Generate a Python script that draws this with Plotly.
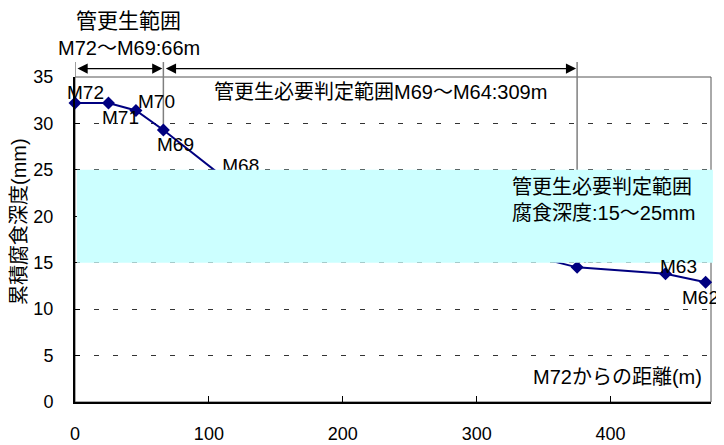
import plotly.graph_objects as go

# ---- data ----
points = ["M72", "M71", "M70", "M69", "M68", "M67", "M66", "M65", "M64", "M63", "M62"]
distance_m = [0, 25, 45.5, 66, 110, 180, 255, 320, 375, 441, 471]
depth_mm = [32.2, 32.2, 31.4, 29.3, 24.3, 21.5, 19.0, 16.5, 14.5, 13.8, 12.9]

x_ticks = [0, 100, 200, 300, 400]
y_ticks = [0, 5, 10, 15, 20, 25, 30, 35]

band_low_mm = 15
band_high_mm = 25
rehab_len_m = 66
judge_len_m = 309

# ---- style ----
LAT = "Liberation Sans, Arial, Noto Sans CJK JP"
CJK = "Liberation Sans, Noto Sans CJK JP"
NAVY = "#000080"

idx = {p: i for i, p in enumerate(points)}
# label offsets (pixels) for visible labels drawn as annotations
label_shift = {
    "M72": (10, 11), "M71": (12, -14), "M70": (21, 9),
    "M69": (12, -15), "M63": (13, 7), "M62": (-5, -15),
}
covered = [p for p in points if p not in label_shift]

fig = go.Figure()

fig.add_trace(go.Scatter(
    x=distance_m, y=depth_mm, mode="lines+markers",
    line=dict(color=NAVY, width=2),
    marker=dict(symbol="diamond", size=10, color=NAVY),
    showlegend=False, hoverinfo="skip", cliponaxis=False,
))
# labels that sit under the band (drawn as trace text so the band covers them)
fig.add_trace(go.Scatter(
    x=[distance_m[idx[p]] for p in covered],
    y=[depth_mm[idx[p]] for p in covered],
    text=covered, mode="text", textposition="top right",
    textfont=dict(family=LAT, size=19, color="black"),
    showlegend=False, hoverinfo="skip",
))

annotations = []
for p, (dx, dy) in label_shift.items():
    i = idx[p]
    annotations.append(dict(
        x=distance_m[i], y=depth_mm[i], xref="x", yref="y",
        text=p, showarrow=False, xshift=dx, yshift=dy,
        xanchor="center", yanchor="middle",
        font=dict(family=LAT, size=19, color="black"),
    ))

x72 = distance_m[idx["M72"]]
x69 = distance_m[idx["M69"]]
x64 = distance_m[idx["M64"]]

# double arrows above the plot
ARROW_Y = 1.026
for a, b in [(x72, x69), (x69, x64)]:
    annotations.append(dict(
        x=b, y=ARROW_Y, xref="x", yref="paper",
        ax=a, ay=0, axref="x", ayref="pixel",
        text="", showarrow=True, arrowside="end+start",
        arrowhead=2, arrowsize=1.7, arrowwidth=1.2, arrowcolor="black",
        standoff=1, startstandoff=1,
    ))

annotations += [
    dict(x=40, y=1.175, xref="x", yref="paper", xanchor="center", yanchor="middle",
         text="管更生範囲", showarrow=False,
         font=dict(family=CJK, size=21, color="black")),
    dict(x=40, y=1.089, xref="x", yref="paper", xanchor="center", yanchor="middle",
         text=f"{points[0]}～M69:{rehab_len_m}m", showarrow=False,
         font=dict(family=CJK, size=20, color="black")),
    dict(x=228, y=33.4, xref="x", yref="y", xanchor="center", yanchor="middle",
         text=f"管更生必要判定範囲M69～M64:{judge_len_m}m", showarrow=False,
         font=dict(family=CJK, size=20, color="black")),
    dict(x=325, y=21.8, xref="x", yref="y", xanchor="left", yanchor="middle", align="left",
         text=f"管更生必要判定範囲<br>腐食深度:{band_low_mm}～{band_high_mm}mm",
         showarrow=False, font=dict(family=CJK, size=20, color="black")),
    dict(x=469.5, y=2.66, xref="x", yref="y", xanchor="right", yanchor="middle",
         text="M72からの距離(m)", showarrow=False,
         font=dict(family=CJK, size=20, color="black")),
    dict(x=-0.088, y=0.554, xref="paper", yref="paper", textangle=-90,
         xanchor="center", yanchor="middle",
         text="累積腐食深度(mm)", showarrow=False,
         font=dict(family=CJK, size=20, color="black")),
]

shapes = [
    # frame (top/right)
    dict(type="rect", xref="paper", yref="paper", x0=0, x1=1, y0=0, y1=1,
         line=dict(color="#555555", width=1), layer="below"),
    # vertical range markers above the plot
    *[dict(type="line", xref="x", yref="paper", x0=xv, x1=xv, y0=1.0, y1=1.046,
           line=dict(color="#7f7f7f", width=1.5), layer="below") for xv in (x72, x69, x64)],
    # vertical range markers inside the plot down to the point
    *[dict(type="line", xref="x", yref="y", x0=distance_m[idx[p]], x1=distance_m[idx[p]],
           y0=35, y1=depth_mm[idx[p]],
           line=dict(color="#7f7f7f", width=1.5), layer="below") for p in ("M69", "M64")],
    # judgement band
    dict(type="rect", xref="paper", yref="y", x0=0.003, x1=1.003,
         y0=band_low_mm, y1=band_high_mm, fillcolor="#CCFFFF",
         line=dict(width=0), layer="above"),
]

# the page body has an 8px default margin: size the figure to fit the window
fig.update_layout(
    width=716, height=437,
    margin=dict(l=67, r=13, t=69, b=43),
    paper_bgcolor="white", plot_bgcolor="white",
    annotations=annotations, shapes=shapes,
    xaxis=dict(range=[0, 475], tickvals=x_ticks, ticks="inside", ticklen=6,
               tickcolor="black", showline=True, linecolor="black", linewidth=2,
               showgrid=False, zeroline=False, ticklabelstandoff=14, automargin=False,
               tickfont=dict(family=LAT, size=18, color="black")),
    yaxis=dict(range=[0, 35], tickvals=y_ticks, ticks="inside", ticklen=5,
               tickcolor="black", showline=True, linecolor="black", linewidth=2,
               showgrid=True, gridcolor="#333333", griddash="5px,14px", gridwidth=1,
               zeroline=False, ticklabelstandoff=16, automargin=False,
               tickfont=dict(family=LAT, size=18, color="black")),
)

fig.write_html("out.html")
